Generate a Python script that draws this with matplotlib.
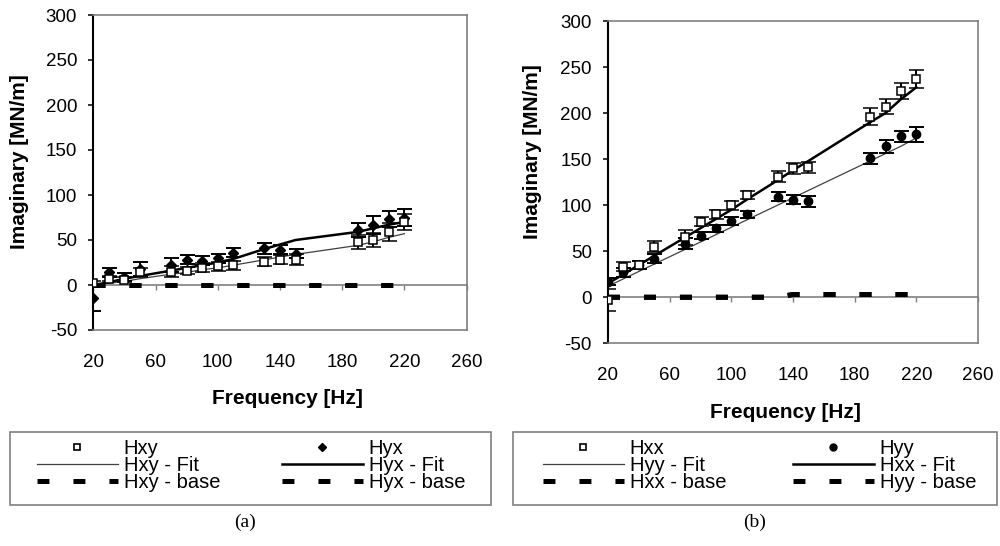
import matplotlib.pyplot as plt
from matplotlib.lines import Line2D
from matplotlib.patches import Rectangle

plt.rcParams['font.family'] = ['Liberation Sans', 'DejaVu Sans']
plt.rcParams['lines.scale_dashes'] = False
plt.rcParams['axes.unicode_minus'] = False

# measurement frequencies [Hz]
freq = [20, 30, 40, 50, 70, 80, 90, 100, 110, 130, 140, 150, 190, 200, 210, 220]

# panel (a): cross terms
hxy = [2, 7, 6, 14, 15, 16, 19, 21, 22, 26, 28, 28, 48, 50, 59, 70]
hxy_err = [2, 3, 3, 5, 6, 4, 5, 5, 5, 5, 5, 6, 8, 8, 10, 9]
hyx = [-14, 14, 9, 18, 22, 28, 27, 30, 36, 41, 39, 35, 61, 67, 73, 75]
hyx_err = [15, 5, 4, 8, 8, 5, 5, 5, 5, 6, 5, 5, 8, 10, 9, 9]
hxy_fit = [0, 2, 4, 7, 12, 14, 17, 19, 22, 28, 31, 34, 44, 48, 53, 57]
hyx_fit = [0, 3, 7, 10, 16, 19, 22, 25, 29, 40, 45, 50, 59, 63, 67, 70]
hxy_base = [0, 0, 0, 0, 0, 0, 0, 0, 0, 0, 0, 0, 0, 0, 0, 0]
hyx_base = [0, 0, 0, 0, 0, 0, 0, 0, 0, 0, 0, 0, 0, 0, 0, 0]

# panel (b): direct terms
hxx = [-3, 33, 35, 55, 65, 82, 90, 100, 111, 131, 140, 141, 196, 207, 224, 237]
hxx_err = [12, 5, 4, 6, 8, 5, 5, 5, 4, 6, 6, 6, 9, 8, 9, 10]
hyy = [17, 27, 35, 42, 58, 67, 75, 83, 90, 109, 106, 104, 151, 164, 175, 177]
hyy_err = [4, 5, 4, 5, 6, 4, 4, 4, 4, 5, 5, 6, 6, 7, 6, 8]
hxx_fit = [15, 25, 35, 45, 65, 75, 85, 95, 106, 127, 138, 148, 190, 200, 215, 228]
hyy_fit = [12, 20, 28, 36, 52, 60, 68, 76, 84, 100, 108, 116, 148, 156, 164, 173]
hxx_base = [0, 0, 0, 0, 0, 0, 0, 0, 0, 0, 3, 3, 3, 3, 3, 3]
hyy_base = [0, 0, 0, 0, 0, 0, 0, 0, 0, 0, 3, 3, 3, 3, 3, 3]

x_ticks = [20, 60, 100, 140, 180, 220, 260]
y_ticks = [-50, 0, 50, 100, 150, 200, 250, 300]

GRAY = '#808080'
THIN = '#404040'
BASE_DASH = (8.6, 17.3)


def style_axes(ax):
    ax.set_xlim(20, 260)
    ax.set_ylim(-50, 300)
    ax.set_xticks(x_ticks)
    ax.set_yticks(y_ticks)
    for s in ['top', 'right', 'bottom']:
        ax.spines[s].set_color(GRAY)
        ax.spines[s].set_linewidth(1.2)
    ax.spines['left'].set_color('black')
    ax.spines['left'].set_linewidth(1.5)
    ax.tick_params(axis='x', length=0, pad=17, labelsize=13.5)
    ax.tick_params(axis='y', direction='out', length=3.6, width=1.1, pad=8, labelsize=13.5)
    # category axis crossing at y = 0
    zero = ax.secondary_xaxis(0, transform=ax.transData)
    zero.set_xticks(x_ticks)
    zero.tick_params(direction='out', length=3.6, width=1, color=GRAY, labelbottom=False)
    zero.spines['bottom'].set_color(GRAY)
    zero.spines['bottom'].set_linewidth(1.2)


def draw_panel(ax, sq, sq_err, other, other_err, other_marker, other_ms,
               thin_fit, thick_fit, base1, base2):
    ax.plot(freq, base1, color='black', lw=3.6, dashes=BASE_DASH, dash_capstyle='butt', zorder=2)
    ax.plot(freq, base2, color='black', lw=3.6, dashes=BASE_DASH, dash_capstyle='butt', zorder=2)
    ax.plot(freq, thin_fit, color=THIN, lw=0.9, zorder=2)
    ax.plot(freq, thick_fit, color='black', lw=1.8, zorder=2)
    eb = dict(ecolor='black', elinewidth=1.4, capsize=5.4, capthick=1.4, zorder=3)
    ax.errorbar(freq, other, yerr=other_err, fmt=other_marker, ms=other_ms,
                mfc='black', mec='black', **eb)
    ax.errorbar(freq, sq, yerr=sq_err, fmt='s', ms=5.8, mfc='white', mec='black',
                mew=1.1, **eb)
    style_axes(ax)


def add_legend(fig, x_box, w_box, x_col1, x_col2, labels1, labels2, marker2, ms2):
    fig.patches.append(Rectangle((x_box, 1 - 505 / 546), w_box, 73 / 546,
                                 transform=fig.transFigure, fill=False,
                                 edgecolor=GRAY, lw=1.2))
    sq = Line2D([], [], ls='none', marker='s', ms=4.5, mfc='white', mec='black', mew=1.2)
    pt = Line2D([], [], ls='none', marker=marker2, ms=ms2, mfc='black', mec='black')
    thin = Line2D([], [], color=THIN, lw=0.9)
    thick = Line2D([], [], color='black', lw=1.8)
    base = Line2D([], [], color='black', lw=3.6, dashes=BASE_DASH, dash_capstyle='butt')
    opts = dict(loc='upper left', frameon=False, fontsize=14.5, handlelength=4.0,
                handletextpad=0.3, labelspacing=-0.095, borderpad=0, borderaxespad=0)
    fig.legend([sq, thin, base], labels1, bbox_to_anchor=(x_col1, 1 - 439 / 546), **opts)
    fig.legend([pt, thick, base], labels2, bbox_to_anchor=(x_col2, 1 - 439 / 546), **opts)


fig = plt.figure(figsize=(10, 5.46), dpi=100)
ax_a = fig.add_axes([0.0933, 1 - 330 / 546, 0.3733, 315 / 546])
ax_b = fig.add_axes([0.608, 1 - 343.3 / 546, 0.370, 322.3 / 546])

draw_panel(ax_a, hxy, hxy_err, hyx, hyx_err, 'D', 5, hxy_fit, hyx_fit, hxy_base, hyx_base)
draw_panel(ax_b, hxx, hxx_err, hyy, hyy_err, 'o', 6, hyy_fit, hxx_fit, hxx_base, hyy_base)

# axis titles
lab = dict(fontsize=15, fontweight='bold', ha='center', va='center')
fig.text(0.020, 1 - 162 / 546, 'Imaginary [MN/m]', rotation=90, **lab)
fig.text(0.533, 1 - 152 / 546, 'Imaginary [MN/m]', rotation=90, **lab)
fig.text(0.287, 1 - 399 / 546, 'Frequency [Hz]', **lab)
fig.text(0.785, 1 - 413 / 546, 'Frequency [Hz]', **lab)

add_legend(fig, 0.010, 0.481, 0.037, 0.282,
           ['Hxy', 'Hxy - Fit', 'Hxy - base'], ['Hyx', 'Hyx - Fit', 'Hyx - base'], 'D', 4.5)
add_legend(fig, 0.513, 0.484, 0.543, 0.793,
           ['Hxx', 'Hyy - Fit', 'Hxx - base'], ['Hyy', 'Hxx - Fit', 'Hyy - base'], 'o', 5)

cap = dict(fontsize=14, family='Liberation Serif', ha='center', va='center')
fig.text(0.245, 1 - 522 / 546, '(a)', **cap)
fig.text(0.755, 1 - 522 / 546, '(b)', **cap)

plt.savefig('out.png', dpi=100)
